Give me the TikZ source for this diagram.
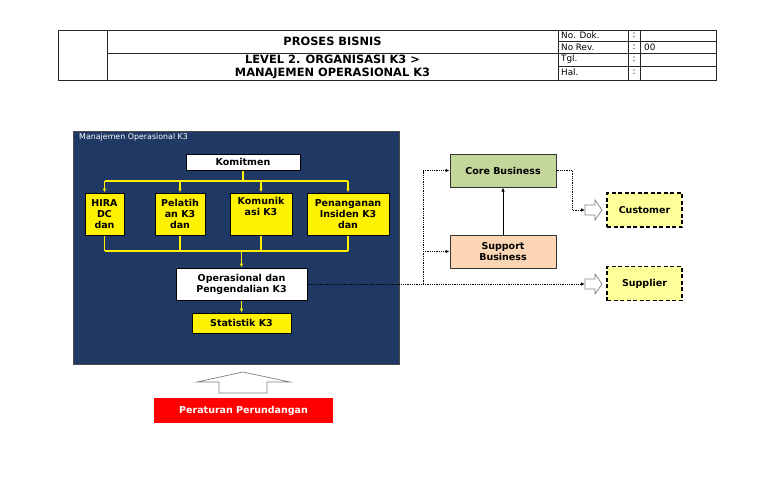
\documentclass[tikz,border=0pt]{standalone}
\usepackage{fontspec}
\setmainfont{DejaVu Sans}
\usetikzlibrary{positioning, arrows.meta, calc}

\definecolor{panelnavy}{HTML}{1F3864}
\definecolor{coregreen}{HTML}{C4D79B}
\definecolor{supportpeach}{HTML}{FCD5B4}
\definecolor{custyellow}{HTML}{FFFF99}

\newcommand{\bxfont}{\fontsize{9.5}{11}\selectfont\bfseries}
\newcommand{\hdfont}{\fontsize{11.4}{13}\selectfont\bfseries}
\newcommand{\smfont}{\fontsize{8.8}{10}\selectfont}

\begin{document}
\begin{tikzpicture}[
    x=1pt, y=-1pt,
    >={Latex[length=4pt,width=3.5pt]},
    box/.style={
        rectangle,
        draw,
        line width=1pt,
        inner sep=0pt,
        align=center,
        font=\bxfont
    },
    wbox/.style={
        box,
        fill=white
    },
    ybox/.style={
        box,
        fill=yellow,
        minimum height=42pt
    },
    dbox/.style={
        box,
        fill=custyellow,
        dash pattern=on 4pt off 2.5pt,
        line width=1.3pt,
        minimum width=75pt,
        minimum height=34pt
    },
    bizbox/.style={
        box,
        draw=black!80,
        minimum width=106pt,
        minimum height=33pt
    },
    hollow/.style={
        draw=gray,
        fill=white,
        line width=0.7pt,
        line join=miter
    },
    yline/.style={
        draw=yellow,
        line width=1.5pt
    },
    yarrow/.style={
        yline,
        ->
    },
    dotarrow/.style={
        ->,
        densely dotted,
        line width=0.8pt
    },
    hdr/.style={
        draw=black!85,
        line width=0.7pt
    },
    cell/.style={
        font=\smfont,
        inner sep=0pt,
        anchor=west
    }
]
    \useasboundingbox (0,0) rectangle (768,501);

    % Header table
    \draw[hdr] (58,30) rectangle (716,80);
    \draw[hdr] (107,30) -- (107,80);
    \draw[hdr] (558,30) -- (558,80);
    \draw[hdr] (107,53) -- (558,53);
    \draw[hdr] (628,30) -- (628,80);
    \draw[hdr] (640,30) -- (640,80);
    \foreach \y in {41.5,53,66}
        \draw[hdr] (558,\y) -- (716,\y);
    \node[font=\hdfont] (title) at (332.5,41.5) {PROSES BISNIS};
    \node[font=\hdfont, align=center, inner sep=0pt] (subtitle) at (332.5,66.5)
        {LEVEL 2. ORGANISASI K3 >\\MANAJEMEN OPERASIONAL K3};
    \node[cell] (dok) at (561,35.5) {No. Dok.};
    \node[cell] (rev) at (561,47) {No Rev.};
    \node[cell] (tgl) at (561,59.5) {Tgl.};
    \node[cell] (hal) at (561,72.5) {Hal.};
    \foreach \y in {35.5,47,59.5,72.5}
        \node[cell] at (632.5,\y) {:};
    \node[cell] (revno) at (644,47) {00};

    % Panel
    \node[rectangle, fill=panelnavy, draw=black!70, minimum width=326pt, minimum height=233pt] (panel) at (236,248) {};
    \node[font=\fontsize{7.9}{9}\selectfont, text=white, anchor=north west, inner sep=0pt] (paneltitle) at (79,133.5) {Manajemen Operasional K3};

    % Komitmen and programmes
    \node[wbox, minimum width=114pt, minimum height=16pt] (komit) at (243,162) {Komitmen};
    \node[ybox, minimum width=39pt] (hira) at (104.5,214) {HIRA\\DC\\dan};
    \node[ybox, minimum width=50pt] (pelatih) at (180,214) {Pelatih\\an K3\\dan};
    \node[ybox, minimum width=62pt] (komunik) at (261,214) {Komunik\\asi K3\\\strut};
    \node[ybox, minimum width=82pt] (penang) at (348,214) {Penanganan\\Insiden K3\\dan};

    \coordinate (topbus) at (0,181);
    \coordinate (botbus) at (0,251);

    \draw[yline] (komit.south) -- (komit.south |- topbus);
    \draw[yline] (hira.north |- topbus) -- (penang.north |- topbus);
    \foreach \n in {hira,pelatih,komunik,penang}
        \draw[yarrow] (\n.north |- topbus) -- (\n.north);

    % Operasional
    \node[wbox, minimum width=131pt, minimum height=32pt] (ops) at (241.5,284) {Operasional dan\\Pengendalian K3};
    \node[ybox, minimum width=99pt, minimum height=20pt] (stat) at (241.5,323) {Statistik K3};

    \foreach \n in {hira,pelatih,komunik,penang}
        \draw[yline] (\n.south) -- (\n.south |- botbus);
    \draw[yline] (hira.south |- botbus) -- (penang.south |- botbus);
    \draw[yarrow] (ops.north |- botbus) -- (ops.north);
    \draw[yarrow] (ops.south) -- (stat.north);

    % Regulation
    \draw[hollow] (219,393) -- (219,382) -- (197,382) -- (243,372)
        -- (290,382) -- (267,382) -- (267,393) -- cycle;
    \node[box, draw=none, fill=red, text=white, minimum width=179pt, minimum height=25pt] (regs) at (243.5,410.5) {Peraturan Perundangan};

    % Business
    \node[bizbox, fill=coregreen] (core) at (503,170.5) {Core Business};
    \node[bizbox, fill=supportpeach] (support) at (503,251.5) {Support\\Business};
    \draw[->, line width=1pt] (support) -- (core);

    % Customer and supplier
    \coordinate (custarrow) at (585,210);
    \coordinate (supparrow) at (585,284);
    \foreach \c in {custarrow,supparrow}
        \draw[hollow] (\c) ++(0,-5) -- ++(10,0) -- ++(0,-5) -- ++(7,10)
            -- ++(-7,10) -- ++(0,-5) -- ++(-10,0) -- cycle;
    \node[dbox] (cust) at (644.5,210) {Customer};
    \node[dbox] (supp) at (644.5,283.5) {Supplier};

    \coordinate (split) at (423,284);
    \draw[densely dotted, line width=0.8pt] (ops.east) -- (split);
    \draw[dotarrow] (split) |- (core.west);
    \draw[dotarrow] (split |- support.west) -- (support.west);
    \draw[dotarrow] (split) -- (supparrow);
    \draw[dotarrow] (core.east) -- ++(16,0) |- (custarrow);

\end{tikzpicture}
\end{document}
